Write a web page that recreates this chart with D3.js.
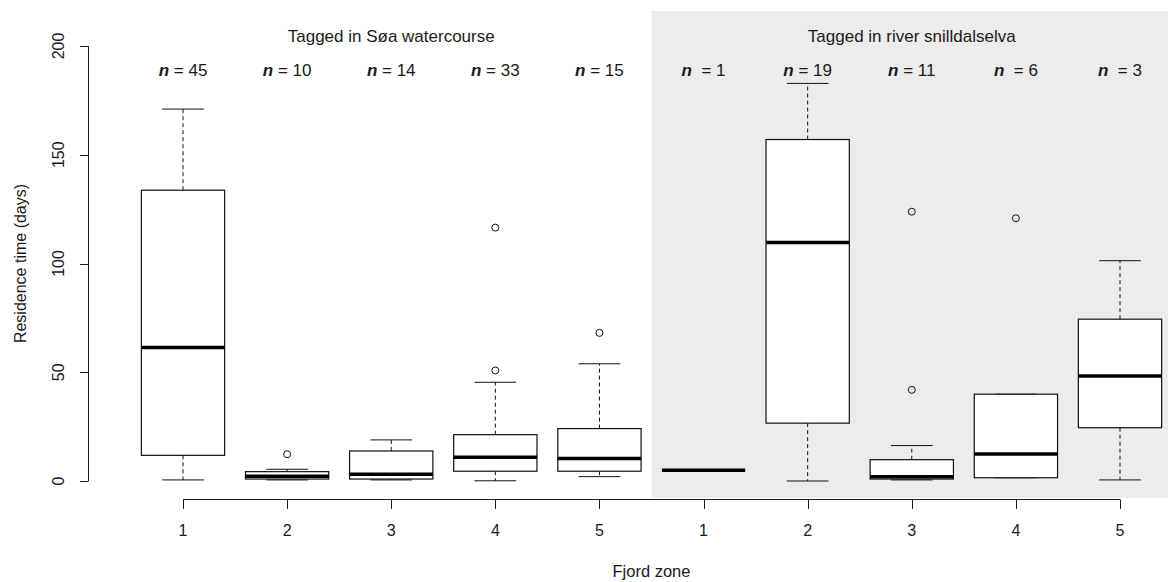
<!DOCTYPE html>
<html>
<head>
<meta charset="utf-8">
<script src="https://cdn.jsdelivr.net/npm/d3@7"></script>
<style>
  body { margin: 0; background: #fff; }
  text { font-family: "Liberation Sans", Arial, sans-serif; fill: #1a1a1a; }
</style>
</head>
<body>
<div id="chart"></div>
<script>
const width = 1168
const height = 582

// two groups of five fjord zones
const groups = ["Tagged in Søa watercourse", "Tagged in river snilldalselva"]
const zones = ["1", "2", "3", "4", "5", "1", "2", "3", "4", "5"]
const nLabels = ["= 45", "= 10", "= 14", "= 33", "= 15", " = 1", "= 19", "= 11", " = 6", " = 3"]

// box statistics (days)
const whiskerLow  = [0.5, 0.5, 0.5, 0.1, 2.0, 4.9, 0.0, 0.5, 1.5, 0.5]
const q1          = [11.8, 0.9, 0.9, 4.5, 4.5, 4.9, 26.6, 0.9, 1.5, 24.5]
const medians     = [61.4, 2.2, 3.1, 10.9, 10.3, 4.9, 109.7, 2.0, 12.4, 48.3]
const q3          = [133.7, 4.3, 13.8, 21.3, 24.1, 4.9, 157.0, 9.8, 39.9, 74.4]
const whiskerHigh = [171.0, 5.4, 18.9, 45.4, 53.9, 4.9, 182.8, 16.3, 39.9, 101.3]
const outliers    = [[], [12.3], [], [50.8, 116.5], [68.1], [], [], [41.9, 123.8], [120.8], []]
const yTicks = [0, 50, 100, 150, 200]

const svg = d3.select("#chart")
    .append("svg")
    .attr("width", width)
    .attr("height", height)

const x = d3.scaleLinear()
    .domain([0, 9])
    .range([183, 1120])
const step = x(1) - x(0)
const boxW = step * 0.8
const y = d3.scaleLinear()
    .domain([0, 200])
    .range([481, 46])

// shaded panel for the river group
svg.append("rect")
    .attr("x", x(4.5))
    .attr("y", 11)
    .attr("width", width - x(4.5))
    .attr("height", 498 - 11)
    .attr("fill", "#ececec")

// group titles
groups.forEach((g, i) => {
    svg.append("text")
        .text(g)
        .attr("x", (x(i * 5) + x(i * 5 + 4)) / 2)
        .attr("y", 42)
        .attr("font-size", 17)
        .style("text-anchor", "middle")
})

// n labels
nLabels.forEach((lab, i) => {
    const t = svg.append("text")
        .attr("x", x(i))
        .attr("y", 76)
        .attr("font-size", 17)
        .style("text-anchor", "middle")
        .attr("xml:space", "preserve")
    t.append("tspan").text("n").attr("font-weight", "bold").attr("font-style", "italic")
    t.append("tspan").text(" " + lab)
})

const boxes = svg.append("g")
zones.forEach((z, i) => {
    const cx = x(i)
    const g = boxes.append("g")
    // whiskers
    g.append("line")
        .attr("x1", cx).attr("x2", cx)
        .attr("y1", y(q3[i])).attr("y2", y(whiskerHigh[i]))
        .attr("stroke", "#111").attr("stroke-dasharray", "4,3")
    g.append("line")
        .attr("x1", cx).attr("x2", cx)
        .attr("y1", y(q1[i])).attr("y2", y(whiskerLow[i]))
        .attr("stroke", "#111").attr("stroke-dasharray", "4,3")
    if (q3[i] > q1[i]) {
        g.append("line")
            .attr("x1", cx - boxW / 4).attr("x2", cx + boxW / 4)
            .attr("y1", y(whiskerHigh[i])).attr("y2", y(whiskerHigh[i]))
            .attr("stroke", "#111")
        g.append("line")
            .attr("x1", cx - boxW / 4).attr("x2", cx + boxW / 4)
            .attr("y1", y(whiskerLow[i])).attr("y2", y(whiskerLow[i]))
            .attr("stroke", "#111")
        g.append("rect")
            .attr("x", cx - boxW / 2)
            .attr("y", y(q3[i]))
            .attr("width", boxW)
            .attr("height", y(q1[i]) - y(q3[i]))
            .attr("fill", "#fff")
            .attr("stroke", "#111")
            .attr("stroke-width", 1.2)
    }
    g.append("line")
        .attr("x1", cx - boxW / 2).attr("x2", cx + boxW / 2)
        .attr("y1", y(medians[i])).attr("y2", y(medians[i]))
        .attr("stroke", "#000").attr("stroke-width", 3.5)
    outliers[i].forEach(v => {
        g.append("circle")
            .attr("cx", cx).attr("cy", y(v)).attr("r", 3.5)
            .attr("fill", "none").attr("stroke", "#111")
    })
})

// y axis
svg.append("line")
    .attr("x1", 88.5).attr("x2", 88.5)
    .attr("y1", y(200)).attr("y2", y(0))
    .attr("stroke", "#222")
yTicks.forEach(t => {
    svg.append("line")
        .attr("x1", 80).attr("x2", 88.5)
        .attr("y1", Math.round(y(t)) + 0.5).attr("y2", Math.round(y(t)) + 0.5)
        .attr("stroke", "#222")
    svg.append("text")
        .text(t)
        .attr("transform", `translate(64,${y(t)}) rotate(-90)`)
        .attr("font-size", 16)
        .style("text-anchor", "middle")
})
svg.append("text")
    .text("Residence time (days)")
    .attr("transform", `translate(26,${y(100)}) rotate(-90)`)
    .attr("font-size", 16)
    .style("text-anchor", "middle")

// x axis
svg.append("line")
    .attr("x1", x(0)).attr("x2", x(9))
    .attr("y1", 499.5).attr("y2", 499.5)
    .attr("stroke", "#222")
zones.forEach((z, i) => {
    svg.append("line")
        .attr("x1", Math.round(x(i)) + 0.5).attr("x2", Math.round(x(i)) + 0.5)
        .attr("y1", 499.5).attr("y2", 509)
        .attr("stroke", "#222")
    svg.append("text")
        .text(z)
        .attr("x", x(i))
        .attr("y", 536)
        .attr("font-size", 16)
        .style("text-anchor", "middle")
})
svg.append("text")
    .text("Fjord zone")
    .attr("x", x(4.5))
    .attr("y", 577)
    .attr("font-size", 16.5)
    .style("text-anchor", "middle")
</script>
</body>
</html>
